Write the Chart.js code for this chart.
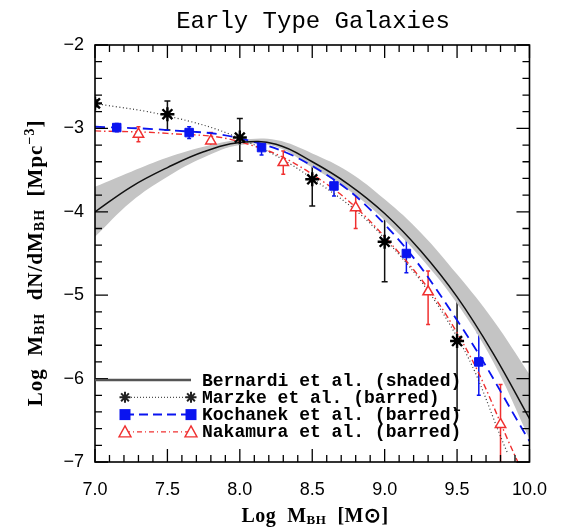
<!DOCTYPE html>
<html>
<head>
<meta charset="utf-8">
<script src="https://cdn.jsdelivr.net/npm/chart.js@4.4.1/dist/chart.umd.min.js"></script>
<style>
  html, body { margin: 0; padding: 0; background: #fff; }
  #wrap { width: 564px; height: 529px; }
</style>
</head>
<body>
<div id="wrap"><canvas id="bhmf"></canvas></div>
<script>
// Bernardi et al. curve and shaded band
const bernX     = [7.0, 7.25, 7.5, 7.75, 8.0, 8.25, 8.5, 8.75, 9.0, 9.25, 9.5, 9.75, 10.0];
const bernY     = [-4.0, -3.7, -3.47, -3.28, -3.17, -3.19, -3.4, -3.67, -4.02, -4.47, -5.02, -5.7, -6.48];
const bernUpper = [-3.7, -3.52, -3.35, -3.22, -3.14, -3.14, -3.3, -3.52, -3.85, -4.25, -4.75, -5.3, -5.95];
const bernLower = [-4.3, -3.88, -3.58, -3.35, -3.2, -3.22, -3.47, -3.74, -4.1, -4.55, -5.1, -5.8, -6.72];

// fitted curves through each sample
const marzkeFitX = [7.0, 7.5, 8.0, 8.5, 9.0, 9.5, 9.85];
const marzkeFitY = [-2.7, -2.85, -3.12, -3.6, -4.32, -5.5, -6.9];
const kochFitX   = [7.0, 7.5, 8.0, 8.5, 9.0, 9.5, 10.0];
const kochFitY   = [-2.98, -3.02, -3.12, -3.45, -4.15, -5.3, -6.75];
const nakaFitX   = [7.0, 7.5, 8.0, 8.5, 9.0, 9.5, 9.92];
const nakaFitY   = [-3.03, -3.06, -3.16, -3.55, -4.3, -5.45, -7.0];

// binned points with error bars
const marzkeX  = [7.0, 7.5, 8.0, 8.5, 9.0, 9.5];
const marzkeY  = [-2.70, -2.83, -3.11, -3.61, -4.36, -5.55];
const marzkeHi = [-2.66, -2.67, -2.88, -3.33, -3.94, -4.85];
const marzkeLo = [-2.74, -3.02, -3.39, -3.93, -4.84, -6.38];

const kochX  = [7.15, 7.65, 8.15, 8.65, 9.15, 9.65];
const kochY  = [-2.99, -3.05, -3.23, -3.69, -4.50, -5.80];
const kochHi = [-2.94, -2.98, -3.14, -3.56, -4.28, -5.45];
const kochLo = [-3.04, -3.12, -3.32, -3.81, -4.73, -6.20];

const nakaX  = [7.3, 7.8, 8.3, 8.8, 9.3, 9.8];
const nakaY  = [-3.07, -3.15, -3.41, -3.95, -4.96, -6.55];
const nakaHi = [-2.98, -3.05, -3.27, -3.78, -4.71, -6.07];
const nakaLo = [-3.16, -3.25, -3.55, -4.20, -5.35, -7.30];

const xTicks = [7.0, 7.5, 8.0, 8.5, 9.0, 9.5, 10.0];
const yTicks = [-2, -3, -4, -5, -6, -7];

const BLUE = '#0a14f0';
const RED = '#f03030';
const SERIF = '"Liberation Serif", serif';
const MONO = '"Liberation Mono", monospace';

function pts(xs, ys) {
    return xs.map((x, i) => ({ x: x, y: ys[i] }));
}

// text with sub/superscripts, bold serif
function richWidth(ctx, parts, size) {
    let w = 0;
    parts.forEach(p => {
        ctx.font = `bold ${p.s ? Math.round(size * 0.66) : size}px ${SERIF}`;
        w += ctx.measureText(p.t).width;
    });
    return w;
}
function richText(ctx, parts, x, y, size) {
    let cx = x;
    parts.forEach(p => {
        const fs = p.s ? Math.round(size * 0.66) : size;
        ctx.font = `bold ${fs}px ${SERIF}`;
        let dy = 0;
        if (p.s === 'sub') dy = size * 0.08;
        if (p.s === 'sup') dy = -size * 0.38;
        ctx.fillText(p.t, cx, y + dy);
        cx += ctx.measureText(p.t).width;
    });
}

const errorBars = [
    { xs: marzkeX, hi: marzkeHi, lo: marzkeLo, color: '#111', cap: 3 },
    { xs: kochX, hi: kochHi, lo: kochLo, color: BLUE, cap: 2 },
    { xs: nakaX, hi: nakaHi, lo: nakaLo, color: RED, cap: 2 }
];

const framePlugin = {
    id: 'frame',
    beforeDatasetsDraw(chart) {
        const { ctx, chartArea: a, scales } = chart;
        ctx.save();
        ctx.beginPath();
        ctx.rect(a.left, a.top, a.right - a.left, a.bottom - a.top);
        ctx.clip();
        // error bars
        errorBars.forEach(eb => {
            ctx.strokeStyle = eb.color;
            ctx.lineWidth = 1.5;
            eb.xs.forEach((x, i) => {
                const px = scales.x.getPixelForValue(x);
                const y1 = scales.y.getPixelForValue(eb.hi[i]);
                const y2 = scales.y.getPixelForValue(eb.lo[i]);
                ctx.beginPath();
                ctx.moveTo(px, y1); ctx.lineTo(px, y2);
                ctx.moveTo(px - eb.cap, y1); ctx.lineTo(px + eb.cap, y1);
                ctx.moveTo(px - eb.cap, y2); ctx.lineTo(px + eb.cap, y2);
                ctx.stroke();
            });
        });
        ctx.restore();
    },
    afterDatasetsDraw(chart) {
        const { ctx, chartArea: a, scales } = chart;
        ctx.save();
        // tick marks pointing inward on all four sides
        ctx.strokeStyle = '#000';
        ctx.lineWidth = 1.3;
        ctx.beginPath();
        for (let v = 70; v <= 100; v++) {
            const px = scales.x.getPixelForValue(v / 10);
            const len = v % 5 === 0 ? 13 : 7;
            ctx.moveTo(px, a.bottom); ctx.lineTo(px, a.bottom - len);
            ctx.moveTo(px, a.top); ctx.lineTo(px, a.top + len);
        }
        for (let v = -70; v <= -20; v += 2) {
            const py = scales.y.getPixelForValue(v / 10);
            const len = v % 10 === 0 ? 13 : 7;
            ctx.moveTo(a.left, py); ctx.lineTo(a.left + len, py);
            ctx.moveTo(a.right, py); ctx.lineTo(a.right - len, py);
        }
        ctx.stroke();
        ctx.lineWidth = 1.6;
        ctx.strokeRect(a.left, a.top, a.right - a.left, a.bottom - a.top);

        // title
        ctx.fillStyle = '#000';
        ctx.textBaseline = 'alphabetic';
        ctx.font = `24px ${MONO}`;
        ctx.textAlign = 'center';
        ctx.fillText('Early Type Galaxies', 313, 28);

        // axis titles
        ctx.textAlign = 'left';
        ctx.letterSpacing = '0.5px';
        const xt = [{ t: 'Log  M' }, { t: 'BH', s: 'sub' }, { t: '  [M\u2299]' }];
        const xw = richWidth(ctx, xt, 20);
        richText(ctx, xt, 315 - xw / 2, 522, 20);

        ctx.letterSpacing = '1px';
        const yt = [{ t: 'Log  M' }, { t: 'BH', s: 'sub' }, { t: '  dN/dM' }, { t: 'BH', s: 'sub' },
                    { t: '  [Mpc' }, { t: '\u22123', s: 'sup' }, { t: ']' }];
        const yw = richWidth(ctx, yt, 21);
        ctx.translate(42, 263);
        ctx.rotate(-Math.PI / 2);
        richText(ctx, yt, -yw / 2, 0, 21);
        ctx.setTransform(1, 0, 0, 1, 0, 0);
        ctx.letterSpacing = '0px';

        // legend, lower left
        const rows = [
            { label: 'Bernardi et al. (shaded)', color: '#555', dash: [], lw: 2.5, marker: null },
            { label: 'Marzke et al. (barred)', color: '#222', dash: [1, 2], lw: 1, marker: 'star' },
            { label: 'Kochanek et al. (barred)', color: BLUE, dash: [9, 5], lw: 2, marker: 'rect' },
            { label: 'Nakamura et al. (barred)', color: RED, dash: [5, 3, 1, 3], lw: 1.3, marker: 'tri' }
        ];
        const x0 = a.left + 30, x1 = a.left + 96, tx = a.left + 107;
        rows.forEach((r, i) => {
            const y = 380 + i * 17.3;
            ctx.strokeStyle = r.color;
            ctx.lineWidth = r.lw;
            ctx.setLineDash(r.dash);
            ctx.beginPath();
            ctx.moveTo(r.marker ? x0 : a.left, y); ctx.lineTo(x1, y);
            ctx.stroke();
            ctx.setLineDash([]);
            [x0, x1].forEach(mx => {
                if (r.marker === 'star') {
                    ctx.lineWidth = 2;
                    ctx.beginPath();
                    for (let k = 0; k < 4; k++) {
                        const ang = k * Math.PI / 4;
                        ctx.moveTo(mx - 5.5 * Math.cos(ang), y - 5.5 * Math.sin(ang));
                        ctx.lineTo(mx + 5.5 * Math.cos(ang), y + 5.5 * Math.sin(ang));
                    }
                    ctx.stroke();
                } else if (r.marker === 'rect') {
                    ctx.fillStyle = BLUE;
                    ctx.fillRect(mx - 5.5, y - 5.5, 11, 11);
                } else if (r.marker === 'tri') {
                    ctx.fillStyle = '#fff';
                    ctx.lineWidth = 1.4;
                    ctx.beginPath();
                    ctx.moveTo(mx, y - 6); ctx.lineTo(mx + 6, y + 5); ctx.lineTo(mx - 6, y + 5);
                    ctx.closePath(); ctx.fill(); ctx.stroke();
                }
            });
            ctx.fillStyle = '#000';
            ctx.font = `bold 18px ${MONO}`;
            ctx.textBaseline = 'middle';
            ctx.fillText(r.label, tx, y + 1);
        });
        ctx.restore();
    }
};

// lower "order" is drawn on top
const curve = (data, color, dash, width) => ({
    data: data, showLine: true, borderColor: color, borderDash: dash, order: 5,
    borderWidth: width, pointRadius: 0, tension: 0.4, fill: false
});

new Chart(document.getElementById('bhmf'), {
    type: 'scatter',
    data: {
        datasets: [
            { data: pts(bernX, bernUpper), showLine: true, borderWidth: 0, pointRadius: 0, tension: 0.4,
              borderColor: 'rgba(0,0,0,0)', fill: false, order: 10 },
            { data: pts(bernX, bernLower), showLine: true, borderWidth: 0, pointRadius: 0, tension: 0.4,
              borderColor: 'rgba(0,0,0,0)', backgroundColor: '#c4c4c4', fill: '-1', order: 9 },
            curve(pts(bernX, bernY), '#111', [], 1.5),
            curve(pts(marzkeFitX, marzkeFitY), '#333', [1, 2.5], 1.2),
            curve(pts(kochFitX, kochFitY), BLUE, [10, 6], 1.8),
            curve(pts(nakaFitX, nakaFitY), RED, [6, 3, 1.5, 3], 1.4),
            { data: pts(marzkeX, marzkeY), pointStyle: 'star', pointRadius: 7, borderColor: '#000',
              backgroundColor: '#000', pointBorderWidth: 2.4, showLine: false, order: 1 },
            { data: pts(kochX, kochY), pointStyle: 'rect', pointRadius: 6, borderColor: BLUE,
              backgroundColor: BLUE, showLine: false, order: 1 },
            { data: pts(nakaX, nakaY), pointStyle: 'triangle', pointRadius: 6, borderColor: RED,
              backgroundColor: '#fff', pointBorderWidth: 1.5, showLine: false, order: 1 }
        ]
    },
    options: {
        responsive: true,
        maintainAspectRatio: false,
        animation: false,
        layout: { padding: { top: 45, right: 32, left: 0, bottom: 0 } },
        plugins: {
            legend: { display: false },
            tooltip: { enabled: false },
            filler: { propagate: false }
        },
        scales: {
            x: {
                type: 'linear', min: 7, max: 10,
                afterBuildTicks: s => { s.ticks = xTicks.map(v => ({ value: v })); },
                afterFit: s => { s.height = 67; },
                grid: { display: false, drawTicks: false },
                border: { display: false },
                ticks: {
                    padding: 17, color: '#000',
                    font: { family: 'Liberation Sans', size: 18 },
                    callback: v => Number(v).toFixed(1)
                }
            },
            y: {
                type: 'linear', min: -7, max: -2,
                afterBuildTicks: s => { s.ticks = yTicks.map(v => ({ value: v })); },
                afterFit: s => { s.width = 95; },
                grid: { display: false, drawTicks: false },
                border: { display: false },
                ticks: {
                    padding: 11, color: '#000',
                    font: { family: 'Liberation Sans', size: 18 },
                    callback: v => '\u2212' + Math.abs(v)
                }
            }
        }
    },
    plugins: [framePlugin]
});
</script>
</body>
</html>
